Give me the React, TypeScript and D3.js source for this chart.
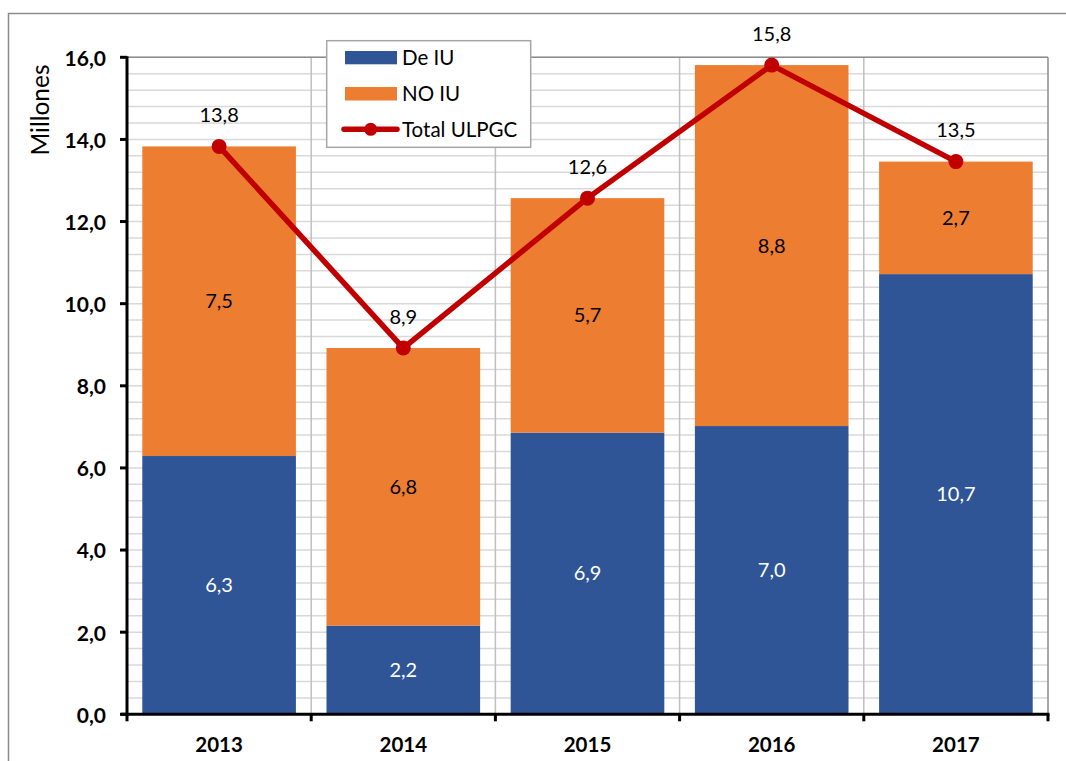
import React from "react";
import * as d3 from "d3";

const years = ["2013", "2014", "2015", "2016", "2017"];
const deIU = [6.29, 2.16, 6.86, 7.02, 10.72];
const noIU = [7.54, 6.76, 5.71, 8.79, 2.74];
const totals = [13.83, 8.92, 12.57, 15.81, 13.46];
const yTicks = [0, 2, 4, 6, 8, 10, 12, 14, 16];
const seriesNames = ["De IU", "NO IU", "Total ULPGC"];

const BLUE = "#2F5597";
const ORANGE = "#ED7D31";
const RED = "#C00000";
const FONT = "Lato, 'Open Sans', sans-serif";

const fmt = (v: number) => d3.format(".1f")(v).replace(".", ",");

export default function App() {
  const left = 127, right = 1048, top = 57.3, bottom = 714.3;
  const x = d3.scaleBand<string>().domain(years).range([left, right]).paddingInner(0.166).paddingOuter(0.083);
  const xb = d3.scaleBand<string>().domain(years).range([left, right]);
  const y = d3.scaleLinear().domain([0, 16]).range([bottom, top]);
  const minor = d3.range(0, 16.001, 0.4);
  const cx = (i: number) => xb(years[i])! + xb.bandwidth() / 2;
  const line = d3.line<number>().x((_, i) => cx(i)).y((d) => y(d));

  return (
    <svg width={1066} height={761} style={{ position: "absolute", left: 0, top: 0, background: "#fff" }} fontFamily={FONT}>
      <rect x={8.5} y={13.5} width={1100} height={800} fill="none" stroke="#8c8c8c" strokeWidth={1.5} />
      {minor.map((v, i) => (
        <line key={"g" + i} x1={left} x2={right} y1={y(v)} y2={y(v)} stroke="#d9d9d9" strokeWidth={1.5} />
      ))}
      {years.slice(1).map((yr) => (
        <line key={"v" + yr} x1={xb(yr)} x2={xb(yr)} y1={top} y2={bottom} stroke="#bfbfbf" strokeWidth={1.5} />
      ))}
      <line x1={left} x2={right} y1={top} y2={top} stroke="#8c8c8c" strokeWidth={1.5} />
      <line x1={right} x2={right} y1={top} y2={bottom} stroke="#8c8c8c" strokeWidth={1.5} />
      {years.map((yr, i) => (
        <g key={"b" + yr}>
          <rect x={x(yr)} width={x.bandwidth()} y={y(deIU[i])} height={y(0) - y(deIU[i])} fill={BLUE} />
          <rect x={x(yr)} width={x.bandwidth()} y={y(deIU[i] + noIU[i])} height={y(deIU[i]) - y(deIU[i] + noIU[i])} fill={ORANGE} />
          <text x={x(yr)! + x.bandwidth() / 2} y={y(deIU[i] / 2)} dy="0.35em" textAnchor="middle" fill="#fff" fontSize={20}>
            {fmt(deIU[i])}
          </text>
          <text x={x(yr)! + x.bandwidth() / 2} y={y(deIU[i] + noIU[i] / 2)} dy="0.35em" textAnchor="middle" fill="#000" fontSize={20}>
            {fmt(noIU[i])}
          </text>
        </g>
      ))}
      <path d={line(totals)!} fill="none" stroke={RED} strokeWidth={5.5} strokeLinejoin="round" />
      {totals.map((t, i) => (
        <g key={"t" + i}>
          <circle cx={cx(i)} cy={y(t)} r={7.5} fill={RED} />
          <text x={cx(i)} y={y(t) - 31.5} dy="0.35em" textAnchor="middle" fontSize={20} fill="#000">
            {fmt(t)}
          </text>
        </g>
      ))}
      {/* axes */}
      <line x1={left} x2={left} y1={top - 1} y2={bottom + 1.5} stroke="#000" strokeWidth={3} />
      <line x1={left - 6} x2={right + 1.5} y1={bottom} y2={bottom} stroke="#000" strokeWidth={3} />
      {yTicks.map((v) => (
        <g key={"yt" + v}>
          <line x1={left - 7} x2={left} y1={y(v)} y2={y(v)} stroke="#000" strokeWidth={3} />
          <text x={106} y={y(v) + 1} dy="0.35em" textAnchor="end" fontWeight="bold" fontSize={21}>
            {fmt(v)}
          </text>
        </g>
      ))}
      {[...years.map((yr) => xb(yr)!), right].map((xx, i) => (
        <line key={"xt" + i} x1={xx} x2={xx} y1={bottom} y2={bottom + 7} stroke="#000" strokeWidth={3} />
      ))}
      {years.map((yr) => (
        <text key={"xl" + yr} x={xb(yr)! + xb.bandwidth() / 2} y={745} dy="0.35em" textAnchor="middle" fontWeight="bold" fontSize={20.5}>
          {yr}
        </text>
      ))}
      <text transform={`translate(48.5,110) rotate(-90)`} textAnchor="middle" fontSize={24.5}>
        Millones
      </text>
      {/* legend */}
      <rect x={326.7} y={40.7} width={204} height={106.6} fill="#fff" stroke="#a6a6a6" strokeWidth={1.5} />
      <rect x={345} y={51} width={52} height={13.3} fill={BLUE} />
      <text x={402} y={65} fontSize={20.5}>{seriesNames[0]}</text>
      <rect x={345} y={87} width={52} height={13.5} fill={ORANGE} />
      <text x={402} y={100.5} fontSize={20.5}>{seriesNames[1]}</text>
      <line x1={344} x2={397} y1={129.3} y2={129.3} stroke={RED} strokeWidth={5.5} strokeLinecap="round" />
      <circle cx={370.7} cy={129.3} r={6.5} fill={RED} />
      <text x={402} y={137} fontSize={20.5}>{seriesNames[2]}</text>
    </svg>
  );
}
